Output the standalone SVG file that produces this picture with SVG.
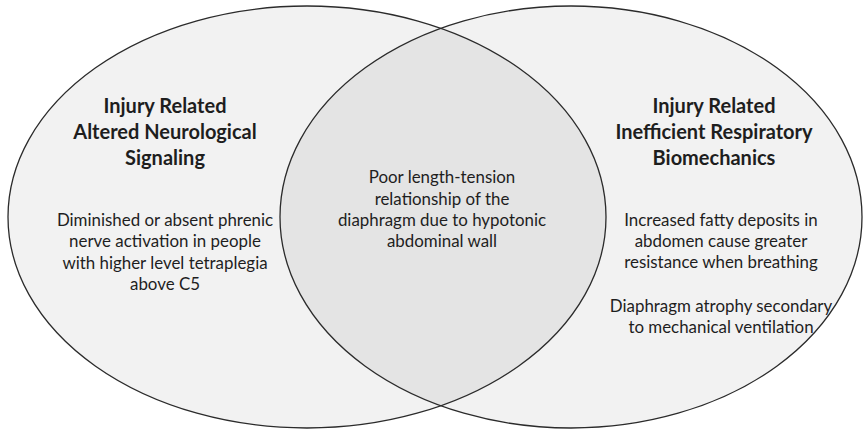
<svg xmlns="http://www.w3.org/2000/svg" width="864" height="429" viewBox="0 0 864 429">
<style>
.fill{fill:#f2f2f2;stroke:none}
.edge{fill:none;stroke:#2b2b2b;stroke-width:1.3}
.t{font-family:Lato,"Liberation Sans",sans-serif;fill:#1e1e1e;text-anchor:middle}
.h{font-size:20px;font-weight:bold}
.b{font-size:16.9px}
</style>
<defs>
<clipPath id="clipL"><ellipse cx="307" cy="217" rx="299" ry="211"/></clipPath>
</defs>
<rect width="864" height="429" fill="#ffffff"/>
<g id="left-circle">
<ellipse class="fill" cx="307" cy="217" rx="299" ry="211"/>
</g>
<g id="right-circle">
<ellipse class="fill" cx="571" cy="217" rx="291" ry="211"/>
</g>
<g id="overlap">
<ellipse cx="571" cy="217" rx="291" ry="211" fill="#e4e4e4" clip-path="url(#clipL)"/>
</g>
<g id="outlines">
<ellipse class="edge" cx="307" cy="217" rx="299" ry="211"/>
<ellipse class="edge" cx="571" cy="217" rx="291" ry="211"/>
</g>
<g id="left-text">
<text class="t h" x="165" y="113">Injury Related</text>
<text class="t h" x="165" y="139">Altered Neurological</text>
<text class="t h" x="165" y="165">Signaling</text>
<text class="t b" x="165" y="226">Diminished or absent phrenic</text>
<text class="t b" x="165" y="247">nerve activation in people</text>
<text class="t b" x="165" y="269">with higher level tetraplegia</text>
<text class="t b" x="165" y="290">above C5</text>
</g>
<g id="center-text">
<text class="t b" x="442" y="183">Poor length-tension</text>
<text class="t b" x="442" y="205">relationship of the</text>
<text class="t b" x="442" y="226">diaphragm due to hypotonic</text>
<text class="t b" x="442" y="247">abdominal wall</text>
</g>
<g id="right-text">
<text class="t h" x="714" y="113">Injury Related</text>
<text class="t h" x="714" y="139">Inefficient Respiratory</text>
<text class="t h" x="714" y="165">Biomechanics</text>
<text class="t b" x="721" y="226">Increased fatty deposits in</text>
<text class="t b" x="721" y="247">abdomen cause greater</text>
<text class="t b" x="721" y="268">resistance when breathing</text>
<text class="t b" x="721" y="312">Diaphragm atrophy secondary</text>
<text class="t b" x="721" y="333">to mechanical ventilation</text>
</g>
</svg>
